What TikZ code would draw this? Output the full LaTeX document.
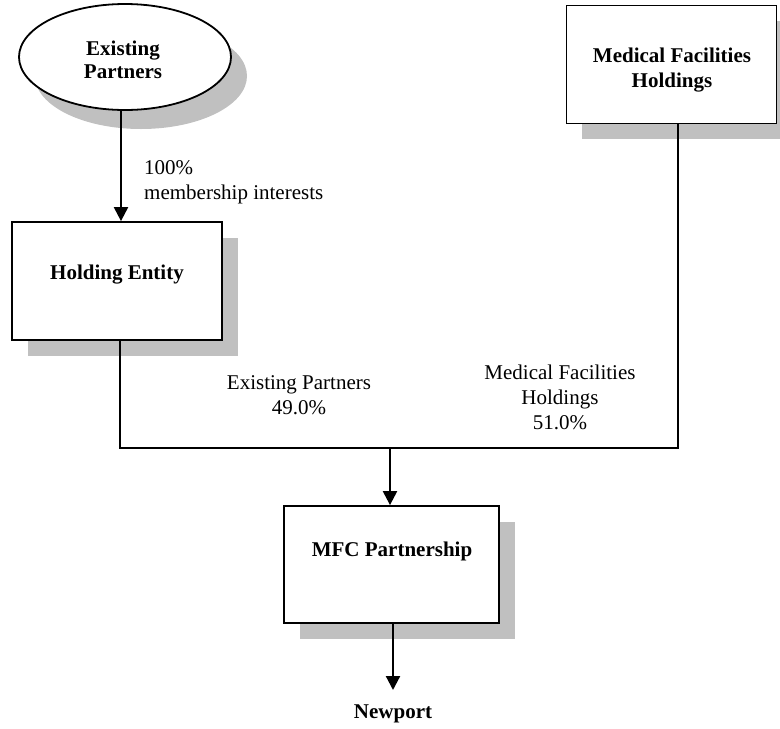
\documentclass[tikz,border=0pt]{standalone}
\usepackage{fontspec}
\setmainfont{Liberation Serif}
\usetikzlibrary{shapes.geometric,arrows.meta}
\definecolor{shadowgray}{RGB}{192,192,192}
\begin{document}
\begin{tikzpicture}[x=1pt,y=-1pt,
  box/.style={draw=black,line width=1.8pt,fill=white,minimum width=210pt,minimum height=118pt,inner sep=0pt},
  shadowbox/.style={fill=shadowgray,draw=none,minimum width=210pt,minimum height=118pt,inner sep=0pt},
  oval/.style={ellipse,draw=black,line width=1.8pt,fill=white,minimum width=212pt,minimum height=106pt,inner sep=0pt},
  shadowoval/.style={ellipse,fill=shadowgray,draw=none,minimum width=212pt,minimum height=106pt,inner sep=0pt},
  lbl/.style={font=\fontsize{21}{25}\selectfont,align=center,inner sep=0pt},
  blbl/.style={font=\fontsize{21}{25}\selectfont\bfseries,align=center,inner sep=0pt},
  conn/.style={line width=1.8pt},
  arr/.style={line width=2.2pt,-{Triangle[length=14pt,width=14pt]}}]
\useasboundingbox (0,0) rectangle (780,729);

% shadows
\node[shadowoval] (eps) at (141,76) {};
\node[shadowbox] (mfhs) at (687,80) {};
\node[shadowbox] (hes) at (133,297) {};
\node[shadowbox,minimum width=215pt,minimum height=117pt] (mfcs) at (407,580) {};

% main shapes
\node[oval] (ep) at (125,57) {};
\node[box] (mfh) at (671.5,64.5) {};
\node[box] (he) at (117,281) {};
\node[box,minimum width=215pt,minimum height=117pt] (mfc) at (391.5,564.5) {};

% texts
\node[blbl,font=\fontsize{21}{23}\selectfont\bfseries] (ept) at (123,60) {Existing\\Partners};
\node[blbl] (mfht) at (672,70) {Medical Facilities\\Holdings};
\node[blbl] (het) at (117,275) {Holding Entity};
\node[blbl] (mfct) at (392,551) {MFC Partnership};
\node[blbl] (np) at (393,714) {Newport};

\node[lbl,align=left,anchor=west] (l1) at (144,182.5) {100\%\\membership interests};
\node[lbl] (l2) at (299,395) {Existing Partners\\49.0\%};
\node[lbl] (l3) at (560,397) {Medical Facilities\\Holdings\\51.0\%};

% connectors
\coordinate (ax) at (121,0);
\coordinate (jl) at (120,448);
\coordinate (jr) at (678,448);
\coordinate (jm) at (390,448);
\coordinate (nx) at (393,690);

\draw[arr] (ep.south -| ax) -- (he.north -| ax);
\draw[conn] (he.south -| jl) -- (jl) -- (jr) -- (mfh.south -| jr);
\draw[arr] (jm) -- (mfc.north -| jm);
\draw[arr] (mfc.south -| nx) -- (nx);
\end{tikzpicture}
\end{document}
